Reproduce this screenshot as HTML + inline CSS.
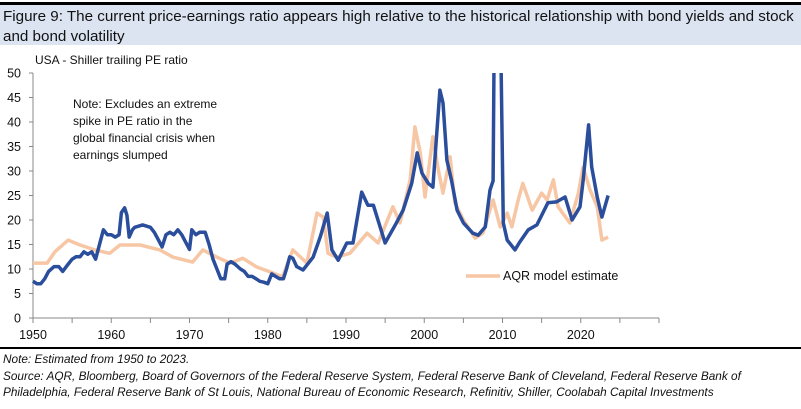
<!DOCTYPE html>
<html><head><meta charset="utf-8"><style>
body{margin:0;width:801px;height:409px;background:#fff;font-family:"Liberation Sans",sans-serif;overflow:hidden;position:relative}
#title{position:absolute;left:0;top:2px;width:801px;height:43px;border-top:3px solid #000;background:#dce4f2;font-size:15.2px;line-height:20px;color:#111;padding-left:3px;box-sizing:border-box;padding-top:2px;white-space:nowrap}
#foot{position:absolute;left:0;top:347px;width:801px;border-top:2px solid #000;font-size:11.8px;font-style:italic;color:#111;line-height:16.5px;padding:2px 0 0 3px;white-space:nowrap}
svg{position:absolute;left:0;top:0}
</style></head><body>
<div id="title">Figure 9: The current price-earnings ratio appears high relative to the historical relationship with bond yields and stock<br>and bond volatility</div>
<svg id="chart" width="801" height="409"></svg>
<div id="foot">Note: Estimated from 1950 to 2023.<br>Source: AQR, Bloomberg, Board of Governors of the Federal Reserve System, Federal Reserve Bank of Cleveland, Federal Reserve Bank of<br>Philadelphia, Federal Reserve Bank of St Louis, National Bureau of Economic Research, Refinitiv, Shiller, Coolabah Capital Investments</div>
<script>
const yTicks=[0,5,10,15,20,25,30,35,40,45,50];
const xTicks=[1950,1960,1970,1980,1990,2000,2010,2020];
const peYears=[1950,1950.5,1951,1951.5,1952,1952.7,1953.3,1953.8,1954.5,1955,1955.5,1956,1956.5,1957,1957.5,1958,1958.5,1959,1959.5,1960,1960.5,1961,1961.3,1961.7,1962,1962.3,1962.7,1963,1964,1965,1965.5,1966,1966.5,1967,1967.5,1968,1968.5,1969,1969.5,1970,1970.3,1970.8,1971.3,1972,1972.5,1973,1973.5,1974,1974.5,1974.8,1975.3,1975.8,1976.5,1977,1977.5,1978,1978.5,1979,1979.5,1980,1980.5,1981,1981.5,1982,1982.4,1982.8,1983.2,1983.7,1984.5,1985.8,1986.7,1987.6,1988.2,1989,1990.1,1990.9,1992,1992.8,1993.5,1995,1996.3,1997.3,1998.4,1999.1,1999.7,2000.5,2001.1,2001.6,2002,2002.4,2002.9,2003.5,2004.2,2005,2006.2,2006.9,2007.8,2008.4,2008.8,2008.95,2009.5,2009.75,2010.1,2010.6,2011.6,2012.2,2013.3,2014.4,2015.8,2016.9,2018,2018.9,2019.9,2020.3,2021,2021.4,2022.1,2022.7,2023.5];
const peValues=[7.5,7,7,8,9.5,10.5,10.5,9.5,11,12,12.5,12.5,13.5,13,13.5,12,15,18,17,17,16.5,17,21.5,22.5,21,16.5,18,18.5,19,18.5,17.5,16,14.5,17,17.5,17,18,17,15.5,14,18,17,17.5,17.5,15,12,10,8,8,11,11.5,11,10,9.5,8.5,8.5,8,7.5,7.3,7,9,8.5,8,8,10,12.5,12.2,10.5,9.8,12.4,16.5,21.4,13.9,11.8,15.3,15.3,25.7,23,23,15.3,19,22,27.5,33.7,29.6,27.5,26.7,37.8,46.5,43.9,32.2,28,22,19.4,17.3,16.9,18.6,26.1,28,60,60,60,19.4,15.9,13.9,15.5,18,19,23.5,23.7,24.7,20,22.7,28,39.4,30.8,24.7,20.6,25];
const aqrYears=[1950,1951.8,1952.8,1954.5,1956,1957.9,1959.8,1961.1,1963.7,1966.2,1967.9,1970.4,1971.7,1973.5,1975.2,1976.8,1978.6,1980.3,1981.9,1983.2,1985,1986.3,1987.1,1987.7,1988.8,1990.5,1992.7,1994.1,1996,1996.9,1998.2,1998.8,1999.5,2000.1,2001.1,2001.8,2002.4,2003.3,2003.9,2005,2006.5,2007.5,2008.8,2009.7,2010.6,2011.2,2012,2012.6,2013.8,2015,2015.7,2016.5,2017.1,2018.6,2019.7,2020.3,2021.2,2022.1,2022.7,2023.5];
const aqrValues=[11.2,11.2,13.5,15.9,14.9,13.9,13.2,14.9,14.9,13.9,12.4,11.4,13.9,12.4,11.2,12.2,10.4,9.4,8.4,13.9,11.2,21.4,20.6,13.2,12.4,13.2,17.3,15.3,22.7,19.4,28.2,39,33.7,24.7,37,30.2,25.5,32.9,23.5,20,16.3,17.3,24.1,18.6,21.4,18.6,24.1,27.5,22,25.5,24.1,28.2,22.7,19.4,25.5,30.8,26.1,22.7,15.9,16.5];
const NS='http://www.w3.org/2000/svg';
const svg=document.getElementById('chart');
const X=y=>33+(y-1950)*7.825;
const Y=v=>318-v*4.9;
function mk(t,a,p){const e=document.createElementNS(NS,t);for(const k in a)e.setAttribute(k,a[k]);(p||svg).appendChild(e);return e;}
const defs=mk('defs',{});const cp=mk('clipPath',{id:'clip'},defs);mk('rect',{x:0,y:Y(50),width:801,height:260},cp);
let ax=mk('line',{x1:33,y1:Y(50),x2:33,y2:318,stroke:'#888','stroke-width':1});

ax=mk('line',{x1:33,y1:318,x2:X(2030),y2:318,stroke:'#888','stroke-width':1});

yTicks.forEach(v=>{mk('line',{x1:29,y1:Y(v),x2:33,y2:Y(v),stroke:'#888'});
const t=mk('text',{x:21,y:Y(v)+4.5,'text-anchor':'end','font-size':12.5,fill:'#111'});t.textContent=v;
});
for(let yr=1950;yr<=2030;yr+=5)mk('line',{x1:X(yr),y1:318,x2:X(yr),y2:323,stroke:'#888'});
xTicks.forEach(yr=>{const t=mk('text',{x:X(yr),y:339,'text-anchor':'middle','font-size':12.5,fill:'#111'});t.textContent=yr;
});
function path(xs,vs){return xs.map((x,i)=>(i?'L':'M')+X(x).toFixed(1)+','+Y(vs[i]).toFixed(1)).join('');}
const a=mk('path',{d:path(aqrYears,aqrValues),fill:'none',stroke:'#f7c6a4','stroke-width':3.5,'stroke-linejoin':'round','clip-path':'url(#clip)'});

const b=mk('path',{d:path(peYears,peValues),fill:'none',stroke:'#2a4e9b','stroke-width':3.5,'stroke-linejoin':'round','clip-path':'url(#clip)'});

const lg=mk('line',{x1:466,y1:276,x2:500,y2:276,stroke:'#f7c6a4','stroke-width':3.5});

let t=mk('text',{x:503,y:280,'font-size':12.5,fill:'#111'});t.textContent='AQR model estimate';

t=mk('text',{x:35,y:64,'font-size':12,fill:'#111'});t.textContent='USA - Shiller trailing PE ratio';

['Note: Excludes an extreme','spike in PE ratio in the','global financial crisis when','earnings slumped'].forEach((s,i)=>{
const n=mk('text',{x:73,y:108+i*17,'font-size':12,fill:'#111'});n.textContent=s;
});
</script>
</body></html>
